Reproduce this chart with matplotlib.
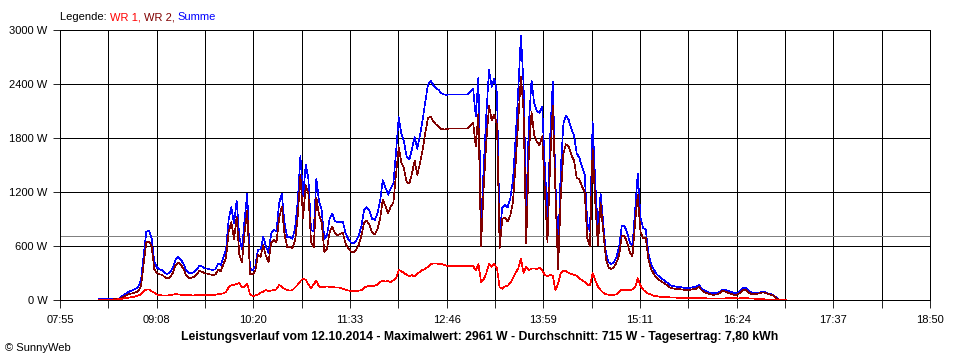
import numpy as np
import matplotlib
matplotlib.use("Agg")
import matplotlib.pyplot as plt

plt.rcParams['font.family'] = ['Liberation Sans', 'DejaVu Sans']

# samples every 2 minutes, 08:24 .. 17:02 (minutes since midnight)
t = np.arange(504, 1023, 2)

# WR 1 (W)
wr1 = [5, 6, 6, 7, 7, 7, 7, 7, 10, 15, 20, 25, 30, 35, 40, 50, 65,
       100, 115, 118, 95, 80, 60, 55, 50, 48, 50, 55, 60, 65, 62, 58, 56, 56, 54, 52, 52,
       55, 56, 56, 56, 56, 56, 56, 58, 64, 68, 74, 90,
       140, 165, 170, 180, 190, 140, 150, 185, 60, 45, 50, 60, 80, 92, 110, 100, 105, 110, 120, 170,
       145, 125, 110, 105, 110, 140, 170, 210, 240, 225, 170, 135,
       175, 215, 150, 140, 145, 150, 145, 145, 140, 140, 135, 125, 115, 105, 100, 100, 100, 105, 110, 140,
       150, 155, 150, 160, 170, 200, 215, 205, 210, 200, 220, 240, 333,
       320, 300, 280, 267, 275, 260, 289, 315, 335, 345, 370, 395, 405, 405, 402, 400, 390, 380, 378, 378,
       378, 378, 378, 378, 378, 378, 378, 378,
       330, 400, 200, 230, 300, 400, 370, 400, 350, 140, 125, 150, 156, 190, 240, 300, 350, 460, 300, 370,
       330, 350, 350, 345, 360, 330, 280, 260, 280, 270, 110, 180, 300, 330, 320, 300, 290, 280, 270, 240,
       220, 200, 170, 160, 300, 220, 150, 110, 80, 65, 58, 56, 58, 62, 90, 115, 112, 110, 112, 115,
       141, 241, 160, 115, 90, 70, 60, 48, 42, 37, 35, 32, 30, 28, 27, 26, 25, 24, 23, 22,
       22, 22, 22, 22, 22, 20, 20, 18, 17, 16, 15, 15, 15, 15, 19, 20, 20, 20, 20, 18,
       20, 22, 20, 18, 16, 14, 12, 10, 8, 7, 7, 6, 6, 5, 4, 4, 3, 3]

# Summe (W)
summe = [8, 10, 10, 12, 12, 14, 15, 15, 20, 45, 65, 85, 100, 110, 125, 150, 220,
         500, 760, 770, 690, 420, 360, 340, 330, 300, 290, 310, 360, 450, 480, 450, 400, 330, 300, 300, 310,
         340, 380, 370, 350, 350, 340, 335, 340, 400, 390, 470, 560,
         900, 1030, 850, 1100, 700, 560, 900, 1180, 350, 330, 370, 560, 560, 700, 600, 520, 740, 780, 760, 1080,
         1180, 860, 700, 700, 680, 800, 1100, 1600, 1150, 1500, 1350, 780,
         760, 1350, 1100, 1000, 680, 720, 900, 960, 880, 860, 870, 870, 740, 680, 640, 630, 660, 720, 830, 1000,
         1030, 990, 900, 890, 960, 1100, 1330, 1250, 1170, 1240, 1300, 1640, 2030,
         1850, 1760, 1590, 1560, 1680, 1810, 1680, 1830, 2000, 2200, 2390, 2435, 2390, 2355, 2335, 2300, 2285, 2278, 2285, 2285,
         2285, 2285, 2285, 2285, 2285, 2285, 2320, 2350,
         2040, 2470, 800, 1480, 2070, 2555, 2370, 2460, 2300, 720, 1030, 1060, 1030, 1130, 1330, 1800, 2330, 2940, 2400, 1000,
         1960, 2440, 2185, 2100, 2080, 2150, 1500, 900, 1800, 2426, 1300, 520, 1450, 1960, 2050, 2000, 1900, 1830, 1630, 1580,
         1480, 1400, 850, 760, 1980, 1300, 760, 1185, 850, 520, 420, 400, 420, 480, 593, 830, 820, 750, 640, 600,
         1000, 1407, 920, 800, 780, 520, 400, 340, 290, 262, 240, 215, 195, 170, 155, 150, 146, 143, 138, 130,
         130, 137, 144, 148, 165, 130, 105, 93, 82, 75, 74, 78, 93, 118, 112, 100, 90, 80, 74, 88,
         115, 140, 128, 95, 82, 81, 81, 85, 92, 86, 74, 65, 55, 30, 7, 7, 7, 6]

wr1 = np.array(wr1)
summe = np.array(summe)
wr2 = summe - wr1

durchschnitt = 715
x_ticks_labels = ["07:55", "09:08", "10:20", "11:33", "12:46", "13:59", "15:11", "16:24", "17:37", "18:50"]
y_ticks = [0, 600, 1200, 1800, 2400, 3000]

fig = plt.figure(figsize=(9.6, 3.6), dpi=100)
ax = fig.add_axes([60/960, 60/360, 870/960, 270/360])

lw = 0.6
dlw = 0.45
ax.axhline(durchschnitt, color='#808080', linewidth=lw, antialiased=False, zorder=2)
ax.plot(t, summe, color='#0000FF', linewidth=dlw, antialiased=False, zorder=3)
ax.plot(t, wr2, color='#800000', linewidth=dlw, antialiased=False, zorder=4)
ax.plot(t, wr1, color='#FF0000', linewidth=dlw, antialiased=False, zorder=5)

ax.set_xlim(475, 1130)
ax.set_ylim(0, 3000)
xt = np.linspace(475, 1130, 19)
ax.set_xticks(xt)
ax.set_xticklabels([x_ticks_labels[i // 2] if i % 2 == 0 else '' for i in range(19)])
ax.set_yticks(y_ticks)
ax.set_yticklabels([f"{v} W" for v in y_ticks])
ax.tick_params(axis='both', direction='out', length=5, width=lw, color='black',
               labelsize=8, pad=4)
ax.tick_params(axis='x', length=6, pad=5)
ax.grid(True, color='black', linewidth=lw, antialiased=False, zorder=1)
for s in ax.spines.values():
    s.set_linewidth(lw)
    s.set_color('black')
    s.set_antialiased(False)

# legend line
leg = fig.text(60/960, 1 - 17/360, "Legende: ", fontsize=8, va='center', ha='left', color='black')
prev = leg
for txt, col in [("WR 1, ", '#FF0000'), ("WR 2, ", '#800000'), ("Summe", '#0000FF')]:
    prev = ax.annotate(txt, xy=(1, 0), xycoords=prev, va='bottom', ha='left',
                       fontsize=8, color=col, annotation_clip=False)

fig.text(0.5, 1 - 337/360,
         "Leistungsverlauf vom 12.10.2014 - Maximalwert: 2961 W - Durchschnitt: 715 W - Tagesertrag: 7,80 kWh",
         fontsize=8.8, fontweight='bold', ha='center', va='center')
fig.text(5/960, 1 - 348/360, "\u00a9 SunnyWeb", fontsize=8, ha='left', va='center')

fig.savefig("out.png", dpi=100)
